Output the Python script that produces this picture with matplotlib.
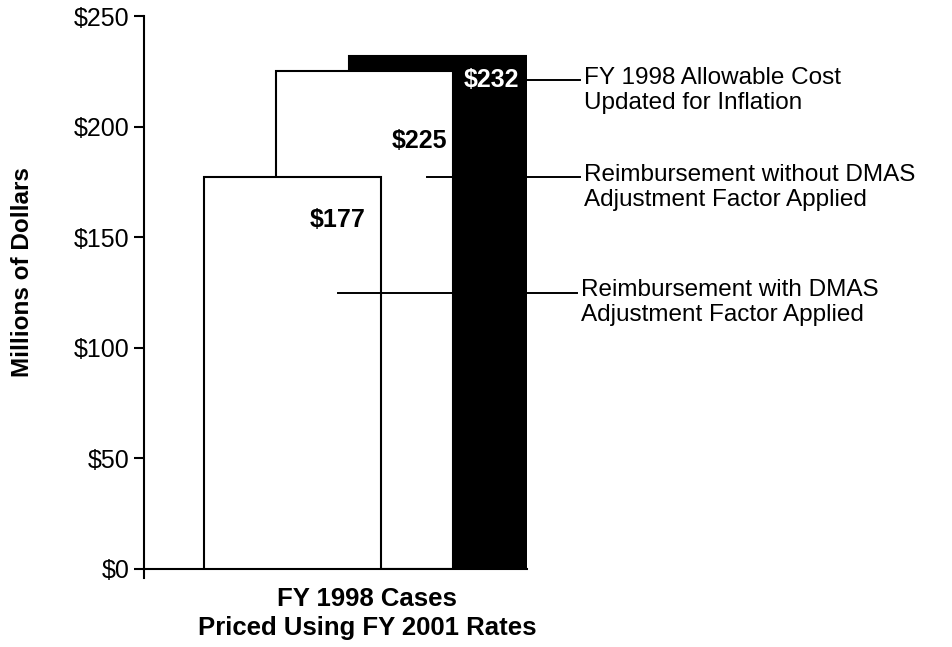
import numpy as np
import matplotlib
matplotlib.use("Agg")
import matplotlib.pyplot as plt

plt.rcParams['font.family'] = ['Liberation Sans', 'DejaVu Sans']

# values in millions of dollars, drawn back to front
series_names = ['FY 1998 Allowable Cost\nUpdated for Inflation',
                'Reimbursement without DMAS\nAdjustment Factor Applied',
                'Reimbursement with DMAS\nAdjustment Factor Applied']
values = [232, 225, 177]
value_labels = ['$232', '$225', '$177']
category = 'FY 1998 Cases\nPriced Using FY 2001 Rates'
yticks = [0, 50, 100, 150, 200, 250]
ytick_labels = ['$0', '$50', '$100', '$150', '$200', '$250']

fig = plt.figure(figsize=(9.52, 6.47), dpi=100)
ax = fig.add_axes([144 / 952, 1 - 569 / 647, (527 - 144) / 952, (569 - 16) / 647])

# overlapping bars, black one at the back
centers = [0.82, 0.405, 0.0]
faces = ['black', 'white', 'white']
for i in range(3):
    ax.bar(centers[i], values[i], width=1.0, color=faces[i],
           edgecolor='black', linewidth=1.5, zorder=1 + i)

# value labels
ax.text(centers[0] + 0.30, values[0] - 11, value_labels[0], color='white',
        fontsize=18, fontweight='bold', ha='center', va='center', zorder=6)
ax.text(centers[1] + 0.465, values[1] - 31.5, value_labels[1], color='black',
        fontsize=18, fontweight='bold', ha='right', va='center', zorder=6)
ax.text(centers[2] + 0.41, values[2] - 19, value_labels[2], color='black',
        fontsize=18, fontweight='bold', ha='right', va='center', zorder=6)

# leader lines to the descriptions on the right
line_y = [values[0] - 11, values[2], 125]
line_x0 = [1.316, 0.757, 0.254]
line_x1 = [1.616, 1.616, 1.60]
for i in range(3):
    ax.plot([line_x0[i], line_x1[i]], [line_y[i], line_y[i]], color='black',
            linewidth=1.4, clip_on=False, zorder=5)
    ax.annotate(series_names[i], xy=(line_x1[i], line_y[i]), xytext=(3, 9.5),
                textcoords='offset points', ha='left', va='top', fontsize=17.5,
                linespacing=1.15, annotation_clip=False)

ax.set_xlim(-0.836, 1.32)
ax.set_ylim(0, 250)
ax.set_yticks(yticks)
ax.set_yticklabels(ytick_labels, fontsize=18)
ax.set_xticks([])
ax.tick_params(axis='y', direction='out', length=7, width=1.5, pad=3.5)
ax.spines['top'].set_visible(False)
ax.spines['right'].set_visible(False)
ax.spines['left'].set_linewidth(1.5)
ax.spines['bottom'].set_linewidth(1.5)
ax.spines['left'].set_bounds(-4, 250)

# category label centred under the middle bar
ax.text(centers[1] + 0.015, -8, category, ha='center', va='top', fontsize=18.5,
        fontweight='bold', linespacing=1.3, transform=ax.transData)

fig.text(23 / 952, 1 - 272 / 647, 'Millions of Dollars', rotation=90,
         ha='center', va='center', fontsize=17.5, fontweight='bold')

fig.savefig('out.png', dpi=100, facecolor='white')
